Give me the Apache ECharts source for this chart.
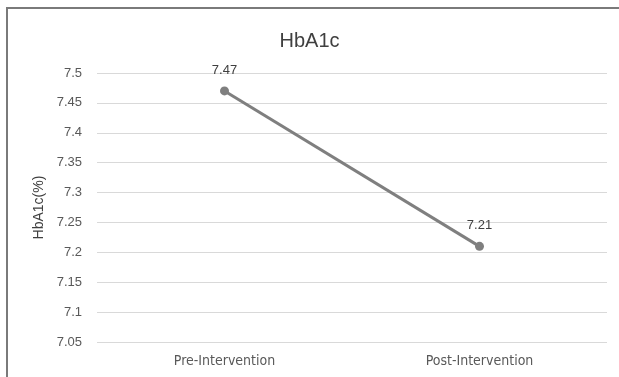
<!DOCTYPE html>
<html>
<head>
<meta charset="utf-8">
<script src="https://cdn.jsdelivr.net/npm/echarts@6/dist/echarts.min.js"></script>
<style>
html,body{margin:0;padding:0;background:#fff;}
#c{width:619px;height:377px;}
</style>
</head>
<body>
<div id="c"></div>
<script>
const categories = ['Pre-Intervention', 'Post-Intervention'];
const hba1c = [7.47, 7.21];
const yMin = 7.05, yMax = 7.5, yStep = 0.05;

const chart = echarts.init(document.getElementById('c'), null, {renderer: 'canvas'});
const narrow = '"Liberation Sans Narrow", "DejaVu Sans Condensed", "Liberation Sans", sans-serif';
const sans = '"Liberation Sans", Arial, sans-serif';
chart.setOption({
  animation: false,
  backgroundColor: '#ffffff',
  title: {
    text: 'HbA1c',
    left: 'center',
    top: 26,
    textStyle: {fontFamily: sans, fontSize: 20, fontWeight: 'normal', color: '#404040'}
  },
  graphic: [{
    type: 'rect',
    shape: {x: 7, y: 8, width: 640, height: 400},
    style: {fill: 'none', stroke: '#7a7a7a', lineWidth: 2},
    silent: true
  }],
  grid: {left: 97, right: 12, top: 73, bottom: 35},
  xAxis: {
    type: 'category',
    data: categories,
    boundaryGap: true,
    axisLine: {show: false},
    axisTick: {show: false},
    axisLabel: {fontFamily: narrow, fontSize: 14, color: '#595959', margin: 12}
  },
  yAxis: {
    type: 'value',
    min: yMin,
    max: yMax,
    interval: yStep,
    name: 'HbA1c(%)',
    nameLocation: 'middle',
    nameGap: 50,
    nameTextStyle: {fontFamily: sans, fontSize: 14, color: '#404040'},
    axisLine: {show: false},
    axisTick: {show: false},
    axisLabel: {
      fontFamily: sans, fontSize: 13, color: '#595959', margin: 15,
      formatter: v => String(parseFloat(v.toFixed(2)))
    },
    splitLine: {lineStyle: {color: '#d9d9d9', width: 1}}
  },
  series: [{
    type: 'line',
    data: hba1c,
    symbol: 'circle',
    symbolSize: 9,
    lineStyle: {color: '#7f7f7f', width: 3},
    itemStyle: {color: '#7f7f7f'},
    label: {show: true, position: 'top', distance: 10, fontFamily: sans, fontSize: 13, color: '#404040'}
  }]
});
</script>
</body>
</html>
